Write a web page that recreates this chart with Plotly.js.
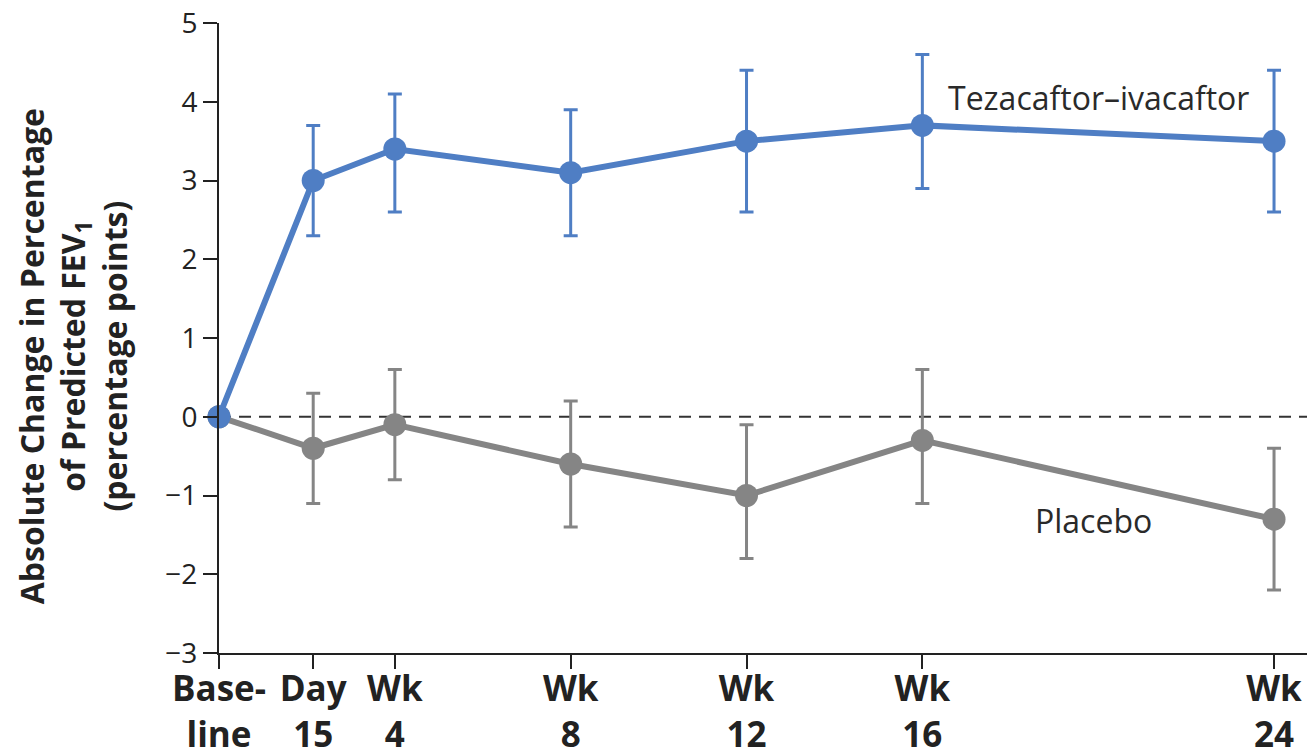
<!DOCTYPE html>
<html>
<head>
<meta charset="utf-8">
<script src="https://cdn.plot.ly/plotly-3.0.1.min.js"></script>
<style>html,body{margin:0;padding:0;background:#fff;}#chart{width:1307px;height:756px;}</style>
</head>
<body>
<div id="chart"></div>
<script>
// Time points (weeks from baseline)
const timeWeeks = [0, 15/7, 4, 8, 12, 16, 24];
const tickLabels = ["<b>Base-</b><br><b>line</b>", "<b>Day</b><br><b>15</b>", "<b>Wk</b><br><b>4</b>", "<b>Wk</b><br><b>8</b>", "<b>Wk</b><br><b>12</b>", "<b>Wk</b><br><b>16</b>", "<b>Wk</b><br><b>24</b>"];

// Tezacaftor–ivacaftor: mean change, upper and lower 95% CI
const tezaMean  = [0, 3.0, 3.4, 3.1, 3.5, 3.7, 3.5];
const tezaUpper = [0, 3.7, 4.1, 3.9, 4.4, 4.6, 4.4];
const tezaLower = [0, 2.3, 2.6, 2.3, 2.6, 2.9, 2.6];

// Placebo
const placeboMean  = [0, -0.4, -0.1, -0.6, -1.0, -0.3, -1.3];
const placeboUpper = [0, 0.3, 0.6, 0.2, -0.1, 0.6, -0.4];
const placeboLower = [0, -1.1, -0.8, -1.4, -1.8, -1.1, -2.2];

const seriesNames = ["Tezacaftor–ivacaftor", "Placebo"];

const BLUE = "#4f7ec4";
const GRAY = "#858585";
const FONT = "Open Sans";

function errObj(mean, up, lo, color) {
  return {
    type: "data", symmetric: false,
    array: up.map((u, i) => u - mean[i]),
    arrayminus: lo.map((l, i) => mean[i] - l),
    color: color, thickness: 3, width: 7
  };
}

const traces = [
  {
    x: timeWeeks, y: placeboMean, name: seriesNames[1], type: "scatter", mode: "lines+markers",
    line: {color: GRAY, width: 6}, marker: {color: GRAY, size: 23},
    error_y: errObj(placeboMean, placeboUpper, placeboLower, GRAY),
    cliponaxis: false, showlegend: false
  },
  {
    x: timeWeeks, y: tezaMean, name: seriesNames[0], type: "scatter", mode: "lines+markers",
    line: {color: BLUE, width: 6}, marker: {color: BLUE, size: 23},
    error_y: errObj(tezaMean, tezaUpper, tezaLower, BLUE),
    cliponaxis: false, showlegend: false
  }
];

const layout = {
  width: 1307, height: 756,
  margin: {l: 219, r: 0, t: 23, b: 103},
  paper_bgcolor: "#ffffff", plot_bgcolor: "#ffffff",
  font: {family: FONT, color: "#222222"},
  showlegend: false,
  xaxis: {
    range: [0, 24.75], showgrid: false, zeroline: false,
    showline: true, linecolor: "#222222", linewidth: 2,
    ticks: "outside", ticklen: 14, tickwidth: 2, tickcolor: "#222222",
    tickmode: "array", tickvals: timeWeeks, ticktext: tickLabels,
    ticklabelstandoff: -10,
    tickfont: {family: FONT, size: 35, color: "#222222"}
  },
  yaxis: {
    range: [-3, 5], showgrid: false, zeroline: false,
    showline: true, linecolor: "#222222", linewidth: 2,
    ticks: "outside", ticklen: 14, tickwidth: 2, tickcolor: "#222222",
    tickmode: "linear", tick0: -3, dtick: 1,
    tickfont: {family: FONT, size: 28, color: "#222222"}
  },
  shapes: [
    {type: "line", xref: "paper", x0: 0, x1: 1, yref: "y", y0: 0, y1: 0,
     line: {color: "#333333", width: 2, dash: "12px,8px"}, layer: "below"}
  ],
  annotations: [
    {text: "<b>Absolute Change in Percentage</b><br><b>of Predicted FEV<sub>1</sub></b><br><b>(percentage points)</b>",
     xref: "paper", yref: "paper", x: 0, y: 0.471, xanchor: "center", yanchor: "middle",
     xshift: -146, textangle: -90, showarrow: false,
     font: {family: FONT, size: 32, color: "#222222"}},
    {text: seriesNames[0], xref: "x", yref: "y", x: 20, y: 4.05, showarrow: false,
     font: {family: FONT, size: 32, color: "#2a2a2a"}},
    {text: seriesNames[1], xref: "x", yref: "y", x: 19.9, y: -1.32, showarrow: false,
     font: {family: FONT, size: 32, color: "#2a2a2a"}}
  ]
};

Plotly.newPlot("chart", traces, layout, {displayModeBar: false, staticPlot: true});
</script>
</body>
</html>
